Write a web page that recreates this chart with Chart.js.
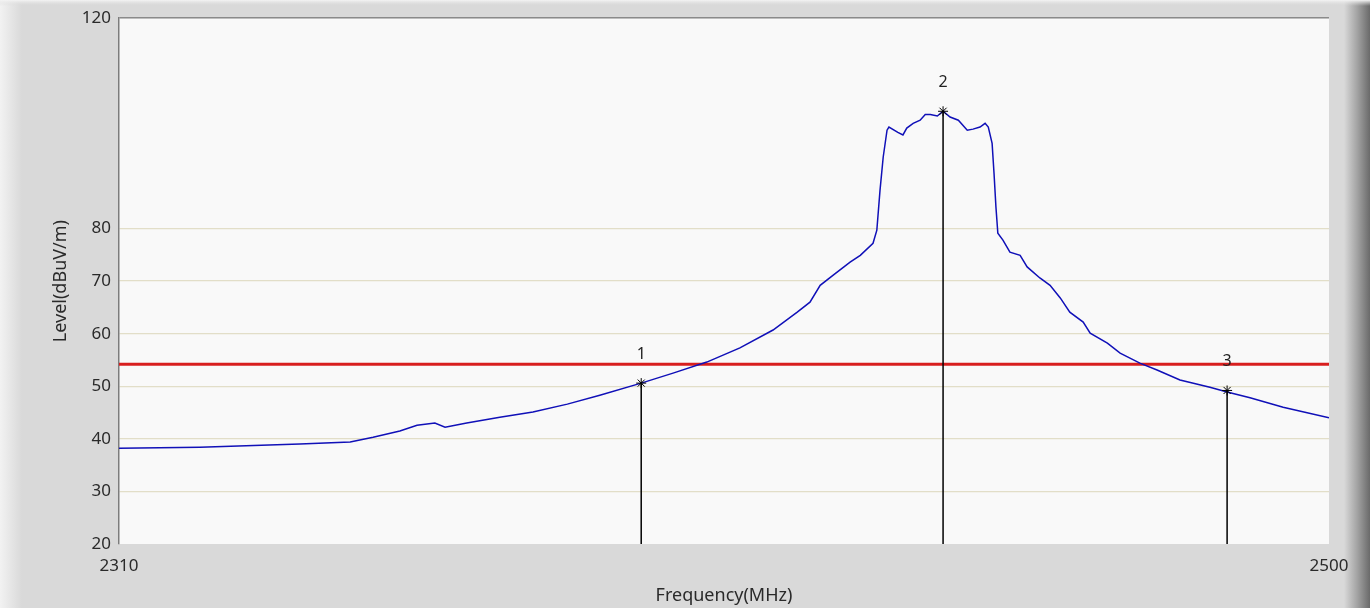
<!DOCTYPE html>
<html>
<head>
<meta charset="utf-8">
<script src="https://cdn.jsdelivr.net/npm/chart.js@4.4.1/dist/chart.umd.min.js"></script>
<style>
  html, body { margin: 0; padding: 0; background: #d8d8d8; }
  canvas { display: block; }
</style>
</head>
<body>
<canvas id="spectrum" width="1370" height="608"></canvas>
<script>
// spectrum trace (MHz, dBuV/m)
const freq = [
    2310, 2322.7, 2338.4, 2346.3, 2349.9, 2354.1, 2356.8, 2359.6, 2361.2, 2364.6,
    2369.8, 2375.0, 2380.4, 2385.5, 2392.0, 2397.0, 2402.3, 2407.5, 2412.7, 2416.5,
    2418.5, 2420.1, 2422.1, 2424.8, 2426.4, 2428.4, 2429.0, 2429.5, 2430.0, 2430.6,
    2430.9, 2432.3, 2433.1, 2433.7, 2434.7, 2435.8, 2436.6, 2437.4, 2438.5, 2439.4,
    2440.5, 2441.8, 2443.2, 2444.1, 2445.2, 2446.0, 2446.5, 2447.1, 2447.4, 2447.7,
    2448.0, 2448.8, 2449.9, 2451.5, 2452.6, 2454.6, 2456.2, 2457.8, 2459.3, 2461.4,
    2462.5, 2465.2, 2467.2, 2470.3, 2473.0, 2476.6, 2481.3, 2484.0, 2487.6, 2492.8,
    2500
];
const level = [
    38.2, 38.4, 39.0, 39.4, 40.3, 41.5, 42.6, 43.0, 42.2, 43.0,
    44.1, 45.1, 46.6, 48.3, 50.6, 52.5, 54.6, 57.3, 60.7, 64.1,
    66.0, 69.2, 71.1, 73.6, 74.9, 77.2, 79.7, 87.3, 93.6, 98.7,
    99.3, 98.3, 97.8, 99.1, 100.0, 100.6, 101.7, 101.7, 101.4, 102.3,
    101.2, 100.6, 98.7, 98.9, 99.3, 100.0, 99.3, 96.2, 90.5, 84.1,
    79.1, 77.8, 75.5, 74.9, 72.7, 70.6, 69.2, 66.8, 64.1, 62.2,
    60.1, 58.2, 56.3, 54.4, 53.1, 51.2, 49.8, 48.9, 47.8, 46.0,
    44.0
];

const limitLevel = 54.2;

const markerLabels = ['1', '2', '3'];
const markerFreq = [2392.0, 2439.4, 2484.0];
const markerLevel = [50.6, 102.3, 49.2];

const xTicks = [2310, 2500];
const yTicks = [20, 30, 40, 50, 60, 70, 80, 120];

const xMin = 2310, xMax = 2500, yMin = 20, yMax = 120;

const tickFont = { family: 'Noto Sans', size: 17 };
const titleFont = { family: 'Noto Sans', size: 18 };

const panelBackground = {
    id: 'panelBackground',
    beforeDraw(chart) {
        const { ctx, width, height, chartArea } = chart;
        ctx.save();
        ctx.fillStyle = '#d9d9d9';
        ctx.fillRect(0, 0, width, height);

        let g = ctx.createLinearGradient(0, 0, 22, 0);
        g.addColorStop(0, '#f2f2f2');
        g.addColorStop(1, '#d9d9d9');
        ctx.fillStyle = g;
        ctx.fillRect(0, 0, 22, height);

        g = ctx.createLinearGradient(1344, 0, 1370, 0);
        g.addColorStop(0, '#d9d9d9');
        g.addColorStop(0.5, '#a4a4a4');
        g.addColorStop(1, '#6a6a6a');
        ctx.fillStyle = g;
        ctx.fillRect(1344, 0, 26, height);

        g = ctx.createLinearGradient(0, 0, 0, 6);
        g.addColorStop(0, '#f4f4f4');
        g.addColorStop(1, 'rgba(217,217,217,0)');
        ctx.fillStyle = g;
        ctx.fillRect(0, 0, width, 6);

        ctx.fillStyle = '#f9f9f9';
        ctx.fillRect(chartArea.left, chartArea.top, chartArea.right - chartArea.left, chartArea.bottom - chartArea.top);
        ctx.restore();
    }
};

const markerText = {
    id: 'markerText',
    afterDatasetsDraw(chart) {
        const { ctx, scales } = chart;
        ctx.save();
        ctx.font = '16px "Noto Sans"';
        ctx.fillStyle = '#222';
        ctx.textAlign = 'center';
        ctx.textBaseline = 'middle';
        markerLabels.forEach((label, i) => {
            const x = scales.x.getPixelForValue(markerFreq[i]);
            const y = scales.y.getPixelForValue(markerLevel[i]) - 29;
            ctx.fillText(label, x, y);
        });
        ctx.restore();
    }
};

const markerSets = markerLabels.map((label, i) => ({
    label: 'Marker ' + label,
    data: [{ x: markerFreq[i], y: yMin }, { x: markerFreq[i], y: markerLevel[i] }],
    showLine: true,
    borderColor: '#000',
    borderWidth: 1.5,
    pointStyle: 'star',
    pointRadius: [0, 5],
    pointBorderColor: '#000',
    pointBorderWidth: 1,
    order: 0
}));

new Chart(document.getElementById('spectrum'), {
    type: 'scatter',
    data: {
        datasets: [
            ...markerSets,
            {
                label: 'Level',
                data: freq.map((f, i) => ({ x: f, y: level[i] })),
                showLine: true,
                borderColor: '#1010b8',
                borderWidth: 1.5,
                pointRadius: 0,
                tension: 0,
                order: 1
            },
            {
                label: 'Limit',
                data: [{ x: xMin, y: limitLevel }, { x: xMax, y: limitLevel }],
                showLine: true,
                borderColor: '#d81e1e',
                borderWidth: 3,
                pointRadius: 0,
                order: 2
            }
        ]
    },
    options: {
        responsive: false,
        animation: false,
        devicePixelRatio: 1,
        layout: { padding: { left: 46, top: 18, right: 41, bottom: 0 } },
        plugins: {
            legend: { display: false },
            tooltip: { enabled: false }
        },
        scales: {
            x: {
                type: 'linear',
                min: xMin,
                max: xMax,
                afterBuildTicks: (scale) => { scale.ticks = xTicks.map(v => ({ value: v })); },
                afterFit: (scale) => { scale.height = 64; },
                grid: { display: false, drawTicks: false },
                border: { display: false },
                ticks: { color: '#2a2a2a', font: tickFont, padding: 12, maxRotation: 0, autoSkip: false, callback: (v) => String(v) },
                title: { display: true, text: 'Frequency(MHz)', color: '#2a2a2a', font: titleFont, padding: { top: 0, bottom: 1 } }
            },
            y: {
                type: 'linear',
                min: yMin,
                max: yMax,
                afterBuildTicks: (scale) => { scale.ticks = yTicks.map(v => ({ value: v })); },
                afterFit: (scale) => { scale.width = 119 - 46; },
                grid: {
                    drawTicks: false,
                    color: (c) => c.tick && c.tick.value === yMax ? '#8a8a8a' : (c.tick && c.tick.value === yMin ? 'rgba(0,0,0,0)' : '#e2dec8'),
                    lineWidth: (c) => c.tick && c.tick.value === yMax ? 1.5 : 1.2
                },
                border: { color: '#7c7c7c', width: 1.5 },
                ticks: { color: '#2a2a2a', font: tickFont, padding: 8, autoSkip: false, callback: (v) => String(v) },
                title: { display: true, text: 'Level(dBuV/m)', color: '#2a2a2a', font: titleFont, padding: { top: 4, bottom: 0 } }
            }
        }
    },
    plugins: [panelBackground, markerText]
});
</script>
</body>
</html>
